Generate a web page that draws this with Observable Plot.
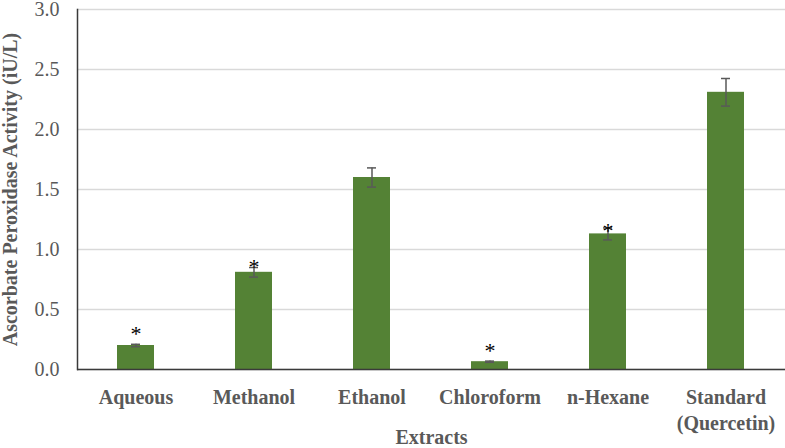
<!DOCTYPE html>
<html>
<head>
<meta charset="utf-8">
<script src="https://cdn.jsdelivr.net/npm/d3@7"></script>
<script src="https://cdn.jsdelivr.net/npm/@observablehq/plot@0.6"></script>
<style>
  html, body { margin: 0; padding: 0; background: #fff; }
  #chart svg { display: block; }
</style>
</head>
<body>
<div id="chart"></div>
<script>
const categories = ["Aqueous", "Methanol", "Ethanol", "Chloroform", "n-Hexane", "Standard\n(Quercetin)"];
const values = [0.20, 0.81, 1.60, 0.065, 1.13, 2.31];
const errors = [0.01, 0.04, 0.08, 0.005, 0.05, 0.115];
const starY = [0.33, 0.89, null, 0.19, 1.19, null];
const yTicks = [0, 0.5, 1.0, 1.5, 2.0, 2.5, 3.0];
const yTitle = "Ascorbate Peroxidase Activity (iU/L)";
const xTitle = "Extracts";

const rows = categories.map((c, i) => ({cat: c, v: values[i], e: errors[i], s: starY[i]}));
const stars = rows.filter(d => d.s != null);

const green = "#548235";
const gray = "#595959";

const chart = Plot.plot({
  width: 785,
  height: 448,
  marginLeft: 77,
  marginRight: 0,
  marginTop: 9,
  marginBottom: 79,
  style: {fontFamily: "'Liberation Serif', 'Times New Roman', serif", fontSize: "20px", color: gray, background: "#fff"},
  x: {domain: categories, paddingInner: 0.686, paddingOuter: 0.343},
  y: {domain: [0, 3]},
  marks: [
    Plot.gridY(yTicks, {stroke: "#d9d9d9", strokeOpacity: 1, strokeWidth: 1.3}),
    Plot.barY(rows, {x: "cat", y: "v", fill: green}),
    Plot.ruleX(rows, {x: "cat", y1: d => d.v - d.e, y2: d => d.v + d.e, stroke: gray, strokeWidth: 1.5}),
    Plot.tickY(rows, {x: "cat", y: d => d.v + d.e, stroke: gray, strokeWidth: 1.5, insetLeft: 14, insetRight: 14}),
    Plot.tickY(rows, {x: "cat", y: d => d.v - d.e, stroke: gray, strokeWidth: 1.5, insetLeft: 14, insetRight: 14}),
    Plot.text(stars, {x: "cat", y: "s", text: () => "*", fill: "#000", fontSize: 22, dy: 4}),
    Plot.frame({anchor: "left", stroke: "#3a3a3a", strokeWidth: 1.5}),
    Plot.ruleY([0], {stroke: "#3a3a3a", strokeWidth: 1.5}),
    Plot.axisY(yTicks, {tickSize: 0, tickPadding: 18, tickFormat: d3.format(".1f"), fill: gray, fontSize: 20, label: null}),
    Plot.axisX({tickSize: 0, tickPadding: 16, fill: gray, fontSize: 20, fontWeight: "bold", lineHeight: 1.3, label: null}),
    Plot.text([yTitle], {frameAnchor: "left", textAnchor: "middle", lineAnchor: "middle", rotate: -90, dx: -67, fill: gray, fontSize: 20, fontWeight: "bold"}),
    Plot.text([xTitle], {frameAnchor: "bottom", lineAnchor: "middle", dy: 68, fill: gray, fontSize: 20, fontWeight: "bold"})
  ]
});
document.getElementById("chart").appendChild(chart);
</script>
</body>
</html>
